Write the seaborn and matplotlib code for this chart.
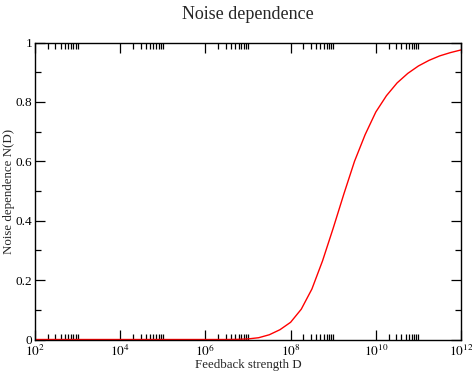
import numpy as np
import pandas as pd
import matplotlib
matplotlib.use('Agg')
import matplotlib.pyplot as plt
import matplotlib.ticker as mticker
import seaborn as sns

# values (log10 of D, and N(D))
log_d = [2, 3, 4, 5, 6, 6.5, 6.75, 7.0, 7.25, 7.5, 7.75, 8.0, 8.25, 8.5, 8.75,
         9.0, 9.25, 9.5, 9.75, 10.0, 10.25, 10.5, 10.75, 11.0, 11.25, 11.5, 11.75, 12.0]
noise_dep = [0.0, 0.0, 0.0, 0.0, 0.0, 0.0, 0.0005, 0.002, 0.006, 0.016, 0.033, 0.058, 0.102, 0.17, 0.265,
             0.375, 0.49, 0.60, 0.69, 0.766, 0.821, 0.864, 0.896, 0.921, 0.94, 0.955, 0.966, 0.975]

x_major = [1e2, 1e4, 1e6, 1e8, 1e10, 1e12]

df = pd.DataFrame({'D': [10.0 ** v for v in log_d], 'N': noise_dep})

sns.set_style('ticks')
plt.rcParams['font.family'] = ['Liberation Serif', 'DejaVu Serif']
plt.rcParams['mathtext.fontset'] = 'stix'

fig = plt.figure(figsize=(4.72, 3.73), dpi=100)
ax = fig.add_axes([0.0742, 0.0898, 0.9025, 0.7962])

sns.lineplot(data=df, x='D', y='N', color='red', linewidth=1.0, ax=ax)

ax.set_xscale('log')
ax.set_xlim(1e2, 1e12)
ax.set_ylim(0, 1)

ax.xaxis.set_major_locator(mticker.FixedLocator(x_major))
minor = [k * 10.0 ** n for n in range(2, 12, 2) for k in range(2, 11)]
ax.xaxis.set_minor_locator(mticker.FixedLocator(minor))
ax.xaxis.set_major_formatter(mticker.FuncFormatter(lambda v, p: r'$10^{%d}$' % round(np.log10(v))))
ax.xaxis.set_minor_formatter(mticker.NullFormatter())

ax.yaxis.set_major_locator(mticker.MultipleLocator(0.2))
ax.yaxis.set_minor_locator(mticker.MultipleLocator(0.1))
ax.yaxis.set_major_formatter(mticker.FuncFormatter(lambda v, p: '0' if v == 0 else ('1' if v == 1 else '%g' % v)))

ax.tick_params(which='both', direction='in', top=True, right=True, width=0.9, colors='black', labelsize=9.5)
ax.tick_params(axis='y', pad=2)
ax.tick_params(axis='x', pad=3)
ax.tick_params(which='major', length=7)
ax.tick_params(which='minor', length=4)

for s in ax.spines.values():
    s.set_linewidth(1.0)
    s.set_color('black')

ax.set_xlabel('Feedback strength D', fontsize=9.3, labelpad=0)
ax.set_ylabel('Noise dependence N(D)', fontsize=9.3, labelpad=0.5)
ax.set_title('Noise dependence', fontsize=13, pad=17)

fig.savefig('out.png', dpi=100)
